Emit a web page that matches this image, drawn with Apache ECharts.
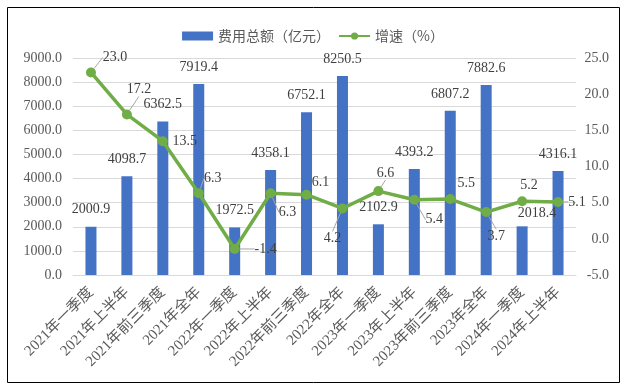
<!DOCTYPE html>
<html><head><meta charset="utf-8">
<script src="https://cdn.jsdelivr.net/npm/echarts@6/dist/echarts.min.js"></script>
<style>html,body{margin:0;padding:0;background:#fff}#c{width:626px;height:388px}</style>
</head><body><div id="c"></div>
<script>
const categories = ['2021年一季度','2021年上半年','2021年前三季度','2021年全年','2022年一季度','2022年上半年','2022年前三季度','2022年全年','2023年一季度','2023年上半年','2023年前三季度','2023年全年','2024年一季度','2024年上半年'];
const costTotal = [2000.9,4098.7,6362.5,7919.4,1972.5,4358.1,6752.1,8250.5,2102.9,4393.2,6807.2,7882.6,2018.4,4316.1];
const growth = [23.0,17.2,13.5,6.3,-1.4,6.3,6.1,4.2,6.6,5.4,5.5,3.7,5.2,5.1];
const leftTicks = {min:0,max:9000,interval:1000};
const rightTicks = {min:-5,max:25,interval:5};
// label placement (layout only)
const lineLabelOffsets = [[24,-15],[12,-25],[22,0],[14,-15],[31,0],[17,19],[14,-12],[-10,30],[7,-18],[20,20],[16,-16],[10,24],[7,-16],[19,0]];
const lineLabelGuides = [1,1,0,1,1,1,0,1,1,1,0,1,0,1];
const barLabelOffsets = [[0,0],[0,0],[0,0],[0,0],[0,0],[0,0],[0,0],[0,0],[0,0],[0,0],[0,0],[0,0],[15,4],[0,0]];

const serif = '"Liberation Serif","Times New Roman","Noto Sans CJK SC",serif';
const chart = echarts.init(document.getElementById('c'));
chart.setOption({
  animation:false,
  textStyle:{fontFamily:serif},
  graphic:[{type:'rect',shape:{x:7.5,y:7.5,width:612,height:375},style:{fill:'none',stroke:'#000',lineWidth:1},silent:true}],
  legend:{top:24,left:'center',itemGap:8,textStyle:{fontFamily:'"Noto Sans CJK SC",sans-serif',fontSize:14,color:'#595959'},
    data:[{name:'费用总额（亿元）',icon:'rect',itemStyle:{color:'#4472C4'}},{name:'增速（%）'}],itemWidth:31,itemHeight:9},
  grid:{left:73,right:50,top:58,bottom:113,containLabel:false},
  xAxis:{type:'category',data:categories,axisTick:{show:false},
    axisLine:{lineStyle:{color:'#D9D9D9'}},
    axisLabel:{rotate:45,interval:0,margin:15,fontSize:15,color:'#595959',fontFamily:'"Liberation Serif","Noto Sans CJK SC",serif'}},
  yAxis:[
    {type:'value',min:leftTicks.min,max:leftTicks.max,interval:leftTicks.interval,
      axisLabel:{formatter:v=>v.toFixed(1),fontSize:14,color:'#595959',margin:11},
      splitLine:{lineStyle:{color:'#D9D9D9'}},axisLine:{show:false},axisTick:{show:false}},
    {type:'value',min:rightTicks.min,max:rightTicks.max,interval:rightTicks.interval,position:'right',
      axisLabel:{formatter:v=>v.toFixed(1),fontSize:14,color:'#595959',margin:33,align:'right'},
      splitLine:{show:false},axisLine:{show:false},axisTick:{show:false}}
  ],
  series:[
    {name:'费用总额（亿元）',type:'bar',barWidth:11,yAxisIndex:0,
      itemStyle:{color:'#4472C4'},
      data:costTotal.map((v,i)=>({value:v,label:{offset:barLabelOffsets[i]}})),
      label:{show:true,position:'top',distance:10,fontSize:14,color:'#404040',fontFamily:serif,formatter:p=>p.value.toFixed(1)}},
    {name:'增速（%）',type:'line',yAxisIndex:1,
      lineStyle:{color:'#70AD47',width:3.5},itemStyle:{color:'#70AD47'},
      symbol:'circle',symbolSize:10,
      data:growth.map((v,i)=>({value:v,labelLine:{show:!!lineLabelGuides[i]}})),
      label:{show:true,position:'inside',fontSize:14,color:'#404040',fontFamily:serif,formatter:p=>p.value.toFixed(1)},
      labelLine:{show:true,lineStyle:{color:'#A6A6A6',width:1}},
      labelLayout:p=>({dx:lineLabelOffsets[p.dataIndex][0],dy:lineLabelOffsets[p.dataIndex][1]}),
      z:3}
  ]
});
</script></body></html>
